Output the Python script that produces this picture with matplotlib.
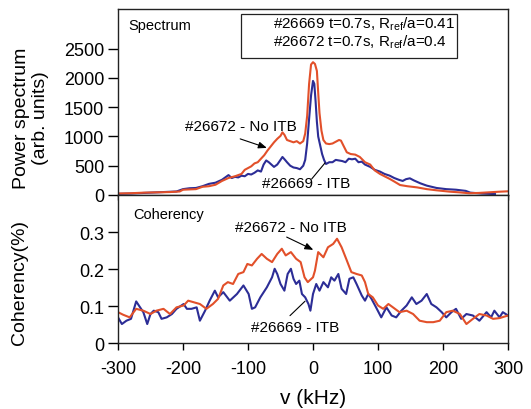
"""
Density fluctuation spectra and cross-coherency for two discharges
=================================================================
Upper panel: power spectrum of the reflectometer signal, #26669 (ITB)
versus #26672 (no ITB). Lower panel: coherency between the two channels.
"""

import matplotlib
matplotlib.use("Agg")
import matplotlib.pyplot as plt
from matplotlib.patches import Rectangle


# ---------------------------------------------------------------------------
# Data (frequency in kHz)
# ---------------------------------------------------------------------------
SPEC_NOITB_F = [-300, -280, -260, -240, -220, -205, -200, -190, -180, -170,
                -160, -150, -140, -130, -120, -110, -105, -100, -95, -90,
                -85, -80, -75, -70, -65, -60, -55, -50, -47, -44,
                -40, -35, -30, -25, -20, -15, -12, -9, -6, -3,
                0, 3, 6, 8, 10, 13, 16, 20, 25, 30,
                35, 40, 43, 47, 52, 58, 65, 72, 80, 88,
                95, 103, 110, 118, 125, 134, 145, 160, 175, 190,
                210, 225, 240, 255, 270, 285, 300]
SPEC_NOITB = [25, 30, 40, 45, 50, 60, 90, 95, 100, 140,
              150, 175, 240, 290, 320, 360, 430, 460, 490, 540,
              560, 620, 680, 760, 830, 900, 960, 1010, 1070, 1030,
              940, 920, 900, 920, 880, 920, 1050, 1350, 1900, 2230,
              2270, 2240, 2120, 1750, 1400, 1100, 940, 880, 870, 880,
              910, 940, 930, 840, 730, 700, 690, 650, 560, 520,
              420, 360, 320, 275, 230, 170, 150, 130, 100, 80,
              57, 45, 30, 35, 45, 55, 63]

SPEC_ITB_F = [-300, -280, -260, -240, -220, -210, -200, -190, -180, -170,
              -160, -150, -140, -135, -130, -125, -120, -115, -110, -105,
              -100, -95, -90, -85, -80, -76, -72, -68, -64, -60,
              -55, -50, -47, -43, -40, -35, -30, -25, -20, -15,
              -12, -9, -6, -3, 0, 2, 4, 6, 8, 11,
              14, 17, 20, 25, 30, 35, 40, 45, 50, 55,
              60, 65, 70, 75, 80, 88, 95, 103, 110, 118,
              125, 132, 138, 143, 149, 155, 165, 175, 190, 205,
              220, 235, 242, 260, 280]
SPEC_ITB = [20, 25, 35, 45, 55, 60, 100, 115, 120, 150,
            190, 210, 260, 300, 340, 290, 310, 300, 330, 320,
            360, 350, 380, 420, 400, 520, 590, 560, 520, 480,
            520, 600, 650, 600, 560, 500, 470, 460, 440, 500,
            600, 880, 1300, 1700, 1950, 1900, 1600, 1250, 1000, 850,
            700, 600, 530, 560, 560, 600, 590, 580, 560, 620,
            610, 620, 560, 570, 520, 480, 430, 400, 360, 330,
            290, 260, 240, 270, 285, 250, 200, 160, 120, 100,
            90, 70, 40, 25, 15]

COH_ITB_F = [-300, -294, -287, -280, -272, -266, -261, -255, -250, -245,
             -238, -233, -225, -217, -210, -199, -194, -187, -179, -174,
             -166, -159, -151, -146, -138, -128, -117, -107, -99, -94,
             -89, -81, -71, -63, -59, -55, -50, -44, -39, -34,
             -30, -26, -21, -17, -12, -7, -4, 0, 5, 10,
             16, 23, 28, 33, 39, 44, 51, 56, 62, 67,
             75, 80, 85, 90, 97, 105, 113, 121, 128, 136,
             144, 152, 159, 167, 175, 182, 190, 198, 205, 213,
             220, 228, 236, 246, 256, 267, 274, 279, 287, 292,
             300]
COH_ITB = [0.070, 0.052, 0.061, 0.066, 0.113, 0.097, 0.084, 0.052, 0.079, 0.088,
           0.084, 0.066, 0.070, 0.079, 0.093, 0.106, 0.093, 0.093, 0.097, 0.061,
           0.088, 0.115, 0.142, 0.124, 0.138, 0.115, 0.133, 0.156, 0.133, 0.093,
           0.097, 0.124, 0.151, 0.178, 0.201, 0.187, 0.160, 0.142, 0.187, 0.201,
           0.174, 0.160, 0.169, 0.133, 0.124, 0.106, 0.088, 0.133, 0.160, 0.142,
           0.165, 0.151, 0.178, 0.169, 0.187, 0.147, 0.133, 0.174, 0.178, 0.160,
           0.129, 0.115, 0.133, 0.120, 0.097, 0.070, 0.097, 0.075, 0.070, 0.088,
           0.102, 0.124, 0.106, 0.115, 0.133, 0.106, 0.097, 0.084, 0.070, 0.084,
           0.093, 0.066, 0.079, 0.075, 0.061, 0.084, 0.070, 0.088, 0.070, 0.084,
           0.075]

COH_NOITB_F = [-300, -292, -282, -272, -261, -250, -241, -230, -220, -210,
               -199, -192, -184, -174, -164, -154, -146, -138, -131, -123,
               -115, -107, -101, -94, -86, -79, -71, -63, -55, -48,
               -42, -34, -26, -19, -13, -8, 0, 3, 8, 16,
               23, 31, 37, 44, 51, 59, 67, 75, 80, 85,
               92, 100, 108, 116, 123, 133, 144, 154, 164, 175,
               185, 195, 205, 215, 226, 236, 246, 256, 267, 277,
               287, 300]
COH_NOITB = [0.084, 0.077, 0.070, 0.093, 0.088, 0.079, 0.088, 0.093, 0.079, 0.097,
             0.102, 0.115, 0.111, 0.106, 0.093, 0.106, 0.120, 0.156, 0.165, 0.160,
             0.187, 0.192, 0.214, 0.210, 0.228, 0.241, 0.228, 0.219, 0.241, 0.255,
             0.237, 0.246, 0.228, 0.219, 0.178, 0.165, 0.178, 0.196, 0.246, 0.232,
             0.259, 0.268, 0.282, 0.259, 0.228, 0.192, 0.187, 0.183, 0.165, 0.133,
             0.124, 0.102, 0.093, 0.106, 0.097, 0.084, 0.088, 0.079, 0.061, 0.057,
             0.057, 0.061, 0.084, 0.088, 0.079, 0.052, 0.066, 0.079, 0.075, 0.066,
             0.068, 0.075]

X_TICKS = [-300, -200, -100, 0, 100, 200, 300]
SPEC_TICKS = [0, 500, 1000, 1500, 2000, 2500]
COH_TICKS = [0, 0.1, 0.2, 0.3]
COH_TICKLABELS = ["0", "0.1", "0.2", "0.3"]

# ---------------------------------------------------------------------------
# Style
# ---------------------------------------------------------------------------
RED = "#e2502a"
BLUE = "#2c2d96"
LW = 1.5
ARROW = "-|>,head_length=0.5,head_width=0.2"
plt.rcParams["font.family"] = ["Liberation Sans", "DejaVu Sans"]
plt.rcParams["mathtext.default"] = "regular"
plt.rcParams["axes.unicode_minus"] = False


def style_axes(ax, xtick_len):
    ax.set_xlim(-300, 300)
    ax.set_xticks(X_TICKS)
    for s in ax.spines.values():
        s.set_linewidth(1.0)
        s.set_color("#222222")
    ax.tick_params(axis="y", direction="out", length=7, width=1.0,
                   labelsize=13, pad=3, right=False)
    ax.tick_params(axis="x", direction="out", length=xtick_len, width=1.0,
                   labelsize=13, pad=7, top=False)


def label_with_arrow(ax, text, text_xy, start, end, head=True):
    ax.text(*text_xy, text, fontsize=11, ha="left", va="baseline")
    ax.annotate("", xy=end, xytext=start,
                arrowprops=dict(arrowstyle=ARROW if head else "-",
                                color="k", lw=0.8, shrinkA=0, shrinkB=0))


def main():
    fig = plt.figure(figsize=(5.31, 4.10), dpi=100)
    ax1 = fig.add_axes([0.2222, 0.5220, 0.7345, 0.4537])
    ax2 = fig.add_axes([0.2222, 0.1602, 0.7345, 0.3618])

    # --- power spectrum ---
    ax1.plot(SPEC_ITB_F, SPEC_ITB, color=BLUE, lw=LW)
    ax1.plot(SPEC_NOITB_F, SPEC_NOITB, color=RED, lw=LW)
    style_axes(ax1, 3.5)
    ax1.set_ylim(0, 3180)
    ax1.set_yticks(SPEC_TICKS)
    ax1.set_xticklabels([])
    ax1.text(0.026, 0.892, "Spectrum", transform=ax1.transAxes, fontsize=10.5)

    ax1.add_patch(Rectangle((0.315, 0.737), 0.554, 0.236, transform=ax1.transAxes,
                            fill=False, lw=0.9, ec="#222222"))
    ax1.text(0.397, 0.900, r"#26669 t=0.7s, R$_{ref}$/a=0.41",
             transform=ax1.transAxes, fontsize=11, va="baseline")
    ax1.text(0.397, 0.803, r"#26672 t=0.7s, R$_{ref}$/a=0.4",
             transform=ax1.transAxes, fontsize=11, va="baseline")

    label_with_arrow(ax1, "#26672 - No ITB", (-197, 1118), (-112, 959), (-71, 805))
    label_with_arrow(ax1, "#26669 - ITB", (-78.5, 132), (-2, 274), (18.5, 548),
                     head=False)

    # --- coherency ---
    ax2.plot(COH_ITB_F, COH_ITB, color=BLUE, lw=LW)
    ax2.plot(COH_NOITB_F, COH_NOITB, color=RED, lw=LW)
    style_axes(ax2, 5)
    ax2.set_ylim(0, 0.4)
    ax2.set_yticks(COH_TICKS)
    ax2.set_yticklabels(COH_TICKLABELS)
    ax2.text(0.039, 0.848, "Coherency", transform=ax2.transAxes, fontsize=10.5)

    label_with_arrow(ax2, "#26672 - No ITB", (-120, 0.304), (-40.5, 0.2865),
                     (0.5, 0.252))
    label_with_arrow(ax2, "#26669 - ITB", (-96, 0.032), (-35.4, 0.0746),
                     (-12.3, 0.1135), head=False)

    ax2.set_xlabel("v (kHz)", fontsize=15, labelpad=8)

    fig.text(31 / 531, 1 - 118 / 410, "Power spectrum\n(arb. units)",
             rotation=90, ha="center", va="center", fontsize=14, linespacing=1.15)
    fig.text(20 / 531, 1 - 283 / 410, "Coherency(%)",
             rotation=90, ha="center", va="center", fontsize=14)

    fig.savefig("out.png", dpi=100)
    plt.close(fig)


if __name__ == "__main__":
    main()
